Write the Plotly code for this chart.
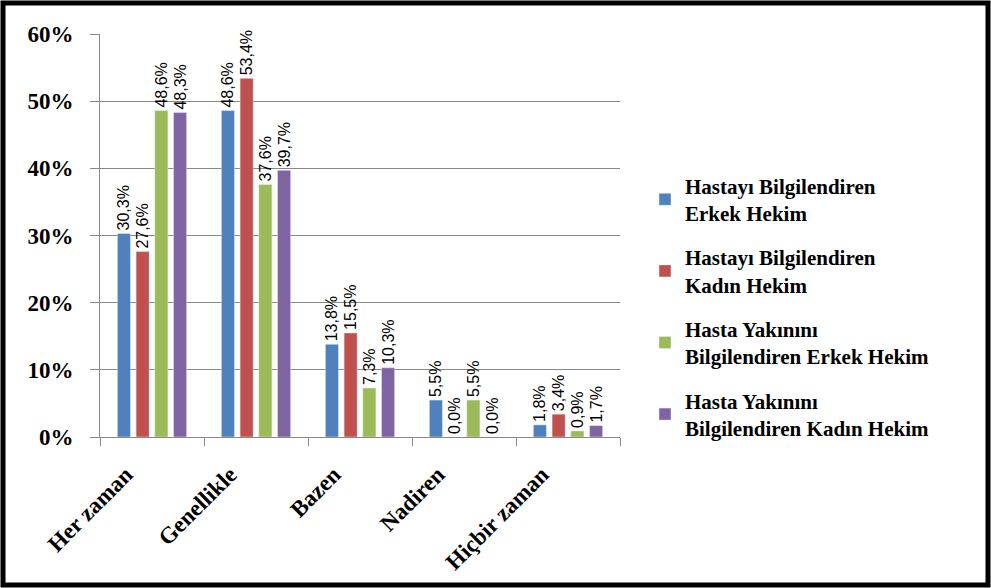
import plotly.graph_objects as go

categories = ["Her zaman", "Genellikle", "Bazen", "Nadiren", "Hiçbir zaman"]
series_names = [
    "Hastayı Bilgilendiren<br>Erkek Hekim",
    "Hastayı Bilgilendiren<br>Kadın Hekim",
    "Hasta Yakınını<br>Bilgilendiren Erkek Hekim",
    "Hasta Yakınını<br>Bilgilendiren Kadın Hekim",
]
erkek_hasta = [30.3, 48.6, 13.8, 5.5, 1.8]
kadin_hasta = [27.6, 53.4, 15.5, 0.0, 3.4]
erkek_yakin = [48.6, 37.6, 7.3, 5.5, 0.9]
kadin_yakin = [48.3, 39.7, 10.3, 0.0, 1.7]
series_values = [erkek_hasta, kadin_hasta, erkek_yakin, kadin_yakin]
colors = ["#4F81BD", "#C0504D", "#9BBB59", "#8064A2"]
y_ticks = [0, 10, 20, 30, 40, 50, 60]
y_tick_labels = ["0%", "10%", "20%", "30%", "40%", "50%", "60%"]

W, H = 991, 588
ml, mr, mt, mb = 100, 371, 34, 151
pw, ph = W - ml - mr, H - mt - mb

fig = go.Figure()
for i, (name, vals, col) in enumerate(zip(series_names, series_values, colors)):
    fig.add_trace(go.Bar(
        x=categories, y=vals, name=name, marker_color=col,
        legendgroup=f"g{i}",
        text=[f"{v:.1f}%".replace(".", ",") for v in vals],
        textposition="outside", textangle=-90, cliponaxis=False,
        constraintext="none",
        textfont=dict(family="Liberation Sans", size=16, color="black"),
    ))

serif = "Liberation Serif"
fig.update_layout(
    width=W, height=H,
    margin=dict(l=ml, r=mr, t=mt, b=mb),
    paper_bgcolor="white", plot_bgcolor="white",
    barmode="group", bargap=0.28, bargroupgap=0.3,
    legend=dict(
        x=(645 - ml) / pw, xanchor="left", y=(437 - 307) / ph, yanchor="middle",
        font=dict(family=serif, size=21, color="black", weight="bold"),
        tracegroupgap=14, itemwidth=30,
    ),
    xaxis=dict(
        showline=True, linecolor="#888888", linewidth=1,
        ticks="outside", ticklen=8, tickcolor="#888888", tickson="boundaries",
        tickangle=-45, ticklabelshift=-26, ticklabelstandoff=14,
        tickfont=dict(family=serif, size=23, color="black", weight="bold"),
        showgrid=False,
    ),
    yaxis=dict(
        range=[0, 60], tickvals=y_ticks, ticktext=y_tick_labels,
        showline=True, linecolor="#888888", linewidth=1,
        ticks="outside", ticklen=9, tickcolor="#888888",
        showgrid=True, gridcolor="#888888", gridwidth=1,
        zeroline=False, ticklabelstandoff=12,
        tickfont=dict(family=serif, size=23, color="black", weight="bold"),
    ),
    shapes=[dict(
        type="rect", xref="paper", yref="paper",
        x0=(3 - ml) / pw, x1=(W - 3 - ml) / pw,
        y0=-(mb - 3) / ph, y1=1 + (mt - 3) / ph,
        line=dict(color="black", width=5), layer="above",
    )],
)

fig.write_html("out.html")
